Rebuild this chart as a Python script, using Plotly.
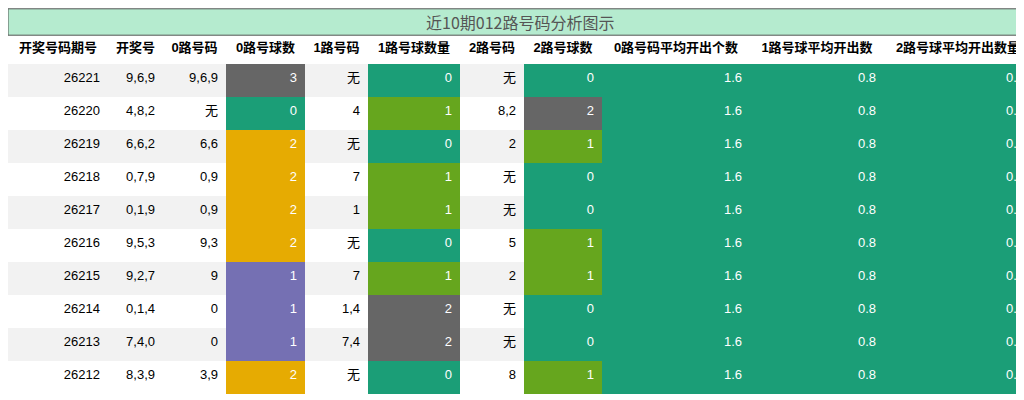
import plotly.graph_objects as go

periods = ["26221", "26220", "26219", "26218", "26217", "26216", "26215", "26214", "26213", "26212"]
draws = ["9,6,9", "4,8,2", "6,6,2", "0,7,9", "0,1,9", "9,5,3", "9,2,7", "0,1,4", "7,4,0", "8,3,9"]
road0 = ["9,6,9", "无", "6,6", "0,9", "0,9", "9,3", "9", "0", "0", "3,9"]
count0 = [3, 0, 2, 2, 2, 2, 1, 1, 1, 2]
road1 = ["无", "4", "无", "7", "1", "无", "7", "1,4", "7,4", "无"]
count1 = [0, 1, 0, 1, 1, 0, 1, 2, 2, 0]
road2 = ["无", "8,2", "2", "无", "无", "5", "2", "无", "无", "8"]
count2 = [0, 2, 1, 0, 0, 1, 1, 0, 0, 1]
avg0 = ["1.6"] * 10
avg1 = ["0.8"] * 10
avg2 = ["0.6"] * 10
headers = ["开奖号码期号", "开奖号", "0路号码", "0路号球数", "1路号码", "1路号球数量",
           "2路号码", "2路号球数", "0路号码平均开出个数", "1路号球平均开出数", "2路号球平均开出数量"]

TEAL, OLIVE, ORANGE, PURPLE, GREY = "#1b9e77", "#66a61e", "#e6ab02", "#7570b3", "#666666"
map0 = {0: TEAL, 1: PURPLE, 2: ORANGE, 3: GREY}
map12 = {0: TEAL, 1: OLIVE, 2: GREY}

stripe = ["#f2f2f2" if i % 2 == 0 else "white" for i in range(10)]
fills = [stripe, stripe, stripe, [map0[v] for v in count0], stripe,
         [map12[v] for v in count1], stripe, [map12[v] for v in count2],
         [TEAL] * 10, [TEAL] * 10, [TEAL] * 10]
black = ["black"] * 10
white = ["white"] * 10
fcolors = [black, black, black, white, black, white, black, white, white, white, white]

fig = go.Figure(go.Table(
    domain=dict(x=[0, 1], y=[0, 0.94]),
    columnwidth=[100, 55, 63, 79, 63, 92, 64, 78, 148, 134, 148],
    header=dict(values=["<b>%s</b>" % h for h in headers], fill_color="white",
                line=dict(color="white", width=0), align="center", height=32,
                font=dict(family="Liberation Sans, Noto Sans CJK SC", size=13, color="black")),
    cells=dict(values=[periods, draws, road0, [str(v) for v in count0], road1,
                       [str(v) for v in count1], road2, [str(v) for v in count2],
                       avg0, avg1, avg2],
               fill_color=fills, line=dict(color="white", width=0), align="right", height=33,
               font=dict(family="Liberation Sans, Noto Sans CJK SC", size=13, color=fcolors)),
))
fig.add_shape(type="rect", xref="paper", yref="paper", x0=0, x1=1, y0=0.932, y1=0.998,
              fillcolor="#b5ebcf", line=dict(color="#555555", width=1))
fig.add_annotation(text="近10期012路号码分析图示", xref="paper", yref="paper", x=0.5, y=0.965,
                   yanchor="middle", showarrow=False,
                   font=dict(family="Noto Sans CJK SC", size=16, color="#555555"))
fig.update_layout(width=1024, height=400, margin=dict(l=0, r=0, t=0, b=0),
                  paper_bgcolor="white")
fig.write_html("out.html")
